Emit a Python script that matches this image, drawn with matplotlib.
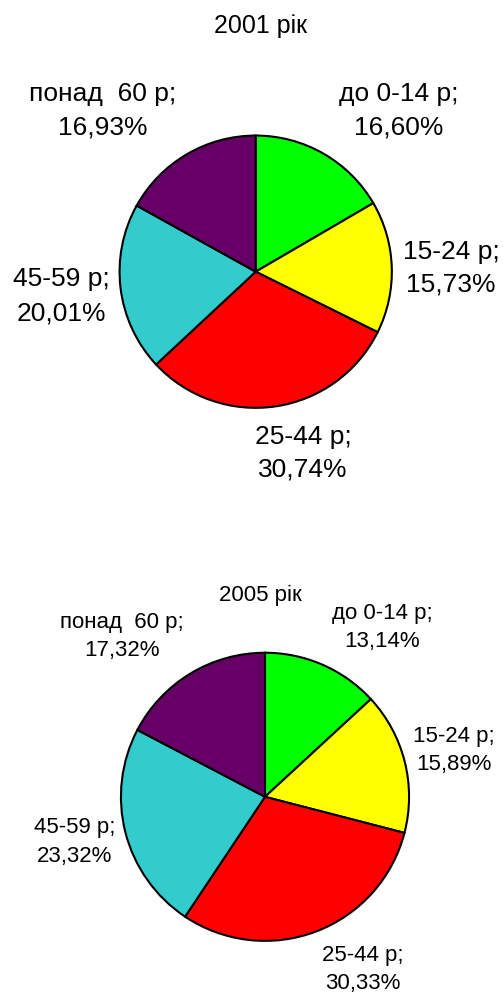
import matplotlib
matplotlib.use("Agg")
import matplotlib.pyplot as plt

plt.rcParams['font.family'] = ['Liberation Sans', 'DejaVu Sans']

# Age groups and shares (%) ------------------------------------------------
categories = ['до 0-14 р', '15-24 р', '25-44 р', '45-59 р', 'понад  60 р']
values_2001 = [16.60, 15.73, 30.74, 20.01, 16.93]
values_2005 = [13.14, 15.89, 30.33, 23.32, 17.32]
colors = ['#00FF00', '#FFFF00', '#FF0000', '#33CCCC', '#660066']
titles = ['2001 рік', '2005 рік']

W, H = 503, 994
fig = plt.figure(figsize=(W / 100, H / 100), dpi=100)


def fx(x):
    return x / W


def fy(y):
    return 1 - y / H


def draw_pie(values, cx, cy, r, title, title_pos, title_size, label_pos, size):
    ax = fig.add_axes([fx(cx - r), fy(cy + r), 2 * r / W, 2 * r / H])
    ax.pie(values, colors=colors, startangle=90, counterclock=False, radius=1,
           wedgeprops=dict(edgecolor='black', linewidth=1.5))
    ax.set_xlim(-1.01, 1.01)
    ax.set_ylim(-1.01, 1.01)
    ax.set_aspect('equal')
    ax.axis('off')
    fig.text(fx(title_pos[0]), fy(title_pos[1]), title, ha='center', va='baseline',
             fontsize=title_size)
    # label: first line category, second line percent (comma decimal)
    for cat, val, (x, y1, y2) in zip(categories, values, label_pos):
        fig.text(fx(x), fy(y1), cat + ';', ha='center', va='baseline', fontsize=size)
        fig.text(fx(x), fy(y2), f"{val:.2f}".replace('.', ',') + '%',
                 ha='center', va='baseline', fontsize=size)


# positions of labels: x centre, baseline line1, baseline line2 (pixels)
pos_2001 = [(399, 101, 135), (451, 259, 292), (303, 444, 477),
            (61, 286, 320), (103, 101, 135)]
pos_2005 = [(382, 619, 647), (454, 742, 770), (363, 961, 989),
            (75, 833, 862), (122, 628, 656)]

draw_pie(values_2001, 255.7, 271.7, 137.5, titles[0], (260, 33), 18, pos_2001, 19)
draw_pie(values_2005, 265, 796.8, 145.5, titles[1], (260, 601), 16, pos_2005, 16)

fig.savefig('out.png', dpi=100)
